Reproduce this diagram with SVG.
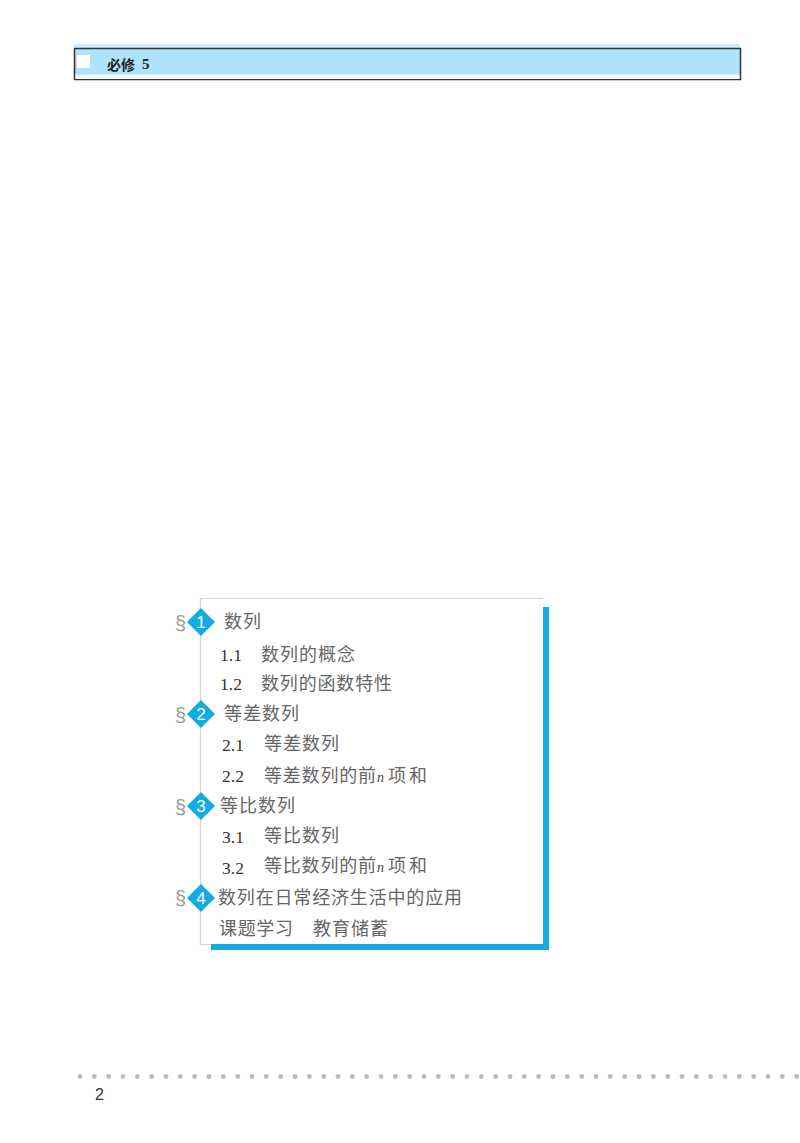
<svg xmlns="http://www.w3.org/2000/svg" width="800" height="1143" viewBox="0 0 800 1143">
<style>
.cn{font-family:"Noto Sans CJK SC","Noto Sans",sans-serif;font-size:18px;fill:#666}
.num{font-family:"Liberation Serif",serif;font-size:17.500px;fill:#333}
.sec{font-family:"Liberation Sans",sans-serif;font-size:20px;fill:#999}
.badge{font-family:"Liberation Sans",sans-serif;font-size:17px;fill:#fff;text-anchor:middle}
.dia{fill:#12ace2}
.dot{fill:#bbb}
.n{font-family:"Liberation Serif",serif;font-style:italic;font-size:14px;fill:#444}
</style>
<defs><circle id="d" r="2.4" class="dot" cy="1076.5"/><path id="diamond" class="dia" d="M0-14L14 0L0 14L-14 0Z"/></defs>
<rect width="800" height="1143" fill="#fff"/>
<g id="header">
<rect x="74" y="44" width="666" height="5" fill="#cdeefb"/>
<rect x="74.500" y="48.500" width="666" height="31" fill="#aee3fb" stroke="#333" stroke-width="1.500"/>
<rect x="75.500" y="74.500" width="664" height="4.500" fill="#f2fbfe"/>
<rect x="77" y="55" width="13" height="13" fill="#fff"/>
<text x="107" y="70" font-family="'Noto Sans CJK SC',sans-serif" font-weight="700" font-size="14" fill="#222">必修</text>
<text x="142" y="69" font-family="'Liberation Serif',serif" font-weight="700" font-size="15" fill="#222">5</text>
</g>
<g id="frame">
<path d="M543 598.500H200.500V944.500H212" fill="none" stroke="#d4d4d4" stroke-width="1.200"/>
<path d="M546 607V947H211" fill="none" stroke="#12ace2" stroke-width="6"/>
</g>
<g id="s1"><text class="sec" x="175" y="630">§</text><use href="#diamond" x="201" y="622"/><text class="badge" x="201" y="628">1</text><text class="cn" x="224" y="628" textLength="37">数列</text></g>
<g id="i11"><text class="num" x="220" y="661">1.1</text><text class="cn" x="261" y="661" textLength="94">数列的概念</text></g>
<g id="i12"><text class="num" x="220" y="690">1.2</text><text class="cn" x="261" y="690" textLength="131">数列的函数特性</text></g>
<g id="s2"><text class="sec" x="175" y="722">§</text><use href="#diamond" x="201" y="714"/><text class="badge" x="201" y="720">2</text><text class="cn" x="224" y="720" textLength="75">等差数列</text></g>
<g id="i21"><text class="num" x="222" y="751">2.1</text><text class="cn" x="264" y="750" textLength="75">等差数列</text></g>
<g id="i22"><text class="num" x="222" y="782">2.2</text><text class="cn" x="264" y="782" textLength="112">等差数列的前</text><text class="n" x="377" y="782">n</text><text class="cn" x="388" y="782" textLength="39">项和</text></g>
<g id="s3"><text class="sec" x="175" y="814">§</text><use href="#diamond" x="201" y="806"/><text class="badge" x="201" y="812">3</text><text class="cn" x="220" y="812" textLength="75">等比数列</text></g>
<g id="i31"><text class="num" x="222" y="843">3.1</text><text class="cn" x="264" y="842" textLength="75">等比数列</text></g>
<g id="i32"><text class="num" x="222" y="874">3.2</text><text class="cn" x="264" y="872" textLength="112">等比数列的前</text><text class="n" x="377" y="872">n</text><text class="cn" x="388" y="872" textLength="39">项和</text></g>
<g id="s4"><text class="sec" x="175" y="905">§</text><use href="#diamond" x="201" y="898"/><text class="badge" x="201" y="904">4</text><text class="cn" x="218" y="904" textLength="244">数列在日常经济生活中的应用</text></g>
<g id="tail"><text class="cn" x="219" y="935" textLength="74">课题学习</text><text class="cn" x="313" y="935" textLength="75">教育储蓄</text></g>
<g id="footer">
<use href="#d" x="80"/><use href="#d" x="94.300"/><use href="#d" x="108.700"/><use href="#d" x="123"/><use href="#d" x="137.300"/><use href="#d" x="151.700"/><use href="#d" x="166"/><use href="#d" x="180.300"/><use href="#d" x="194.700"/><use href="#d" x="209"/><use href="#d" x="223.300"/><use href="#d" x="237.700"/><use href="#d" x="252"/><use href="#d" x="266.300"/><use href="#d" x="280.700"/><use href="#d" x="295"/><use href="#d" x="309.300"/><use href="#d" x="323.700"/><use href="#d" x="338"/><use href="#d" x="352.300"/><use href="#d" x="366.700"/><use href="#d" x="381"/><use href="#d" x="395.300"/><use href="#d" x="409.700"/><use href="#d" x="424"/><use href="#d" x="438.300"/><use href="#d" x="452.700"/><use href="#d" x="467"/><use href="#d" x="481.300"/><use href="#d" x="495.700"/><use href="#d" x="510"/><use href="#d" x="524.300"/><use href="#d" x="538.700"/><use href="#d" x="553"/><use href="#d" x="567.300"/><use href="#d" x="581.700"/><use href="#d" x="596"/><use href="#d" x="610.300"/><use href="#d" x="624.700"/><use href="#d" x="639"/><use href="#d" x="653.300"/><use href="#d" x="667.700"/><use href="#d" x="682"/><use href="#d" x="696.300"/><use href="#d" x="710.700"/><use href="#d" x="725"/><use href="#d" x="739.300"/><use href="#d" x="753.700"/><use href="#d" x="768"/><use href="#d" x="782.300"/><use href="#d" x="796.700"/>
<text x="95" y="1100" font-family="'Liberation Sans',sans-serif" font-size="16" fill="#333">2</text>
</g>
</svg>
